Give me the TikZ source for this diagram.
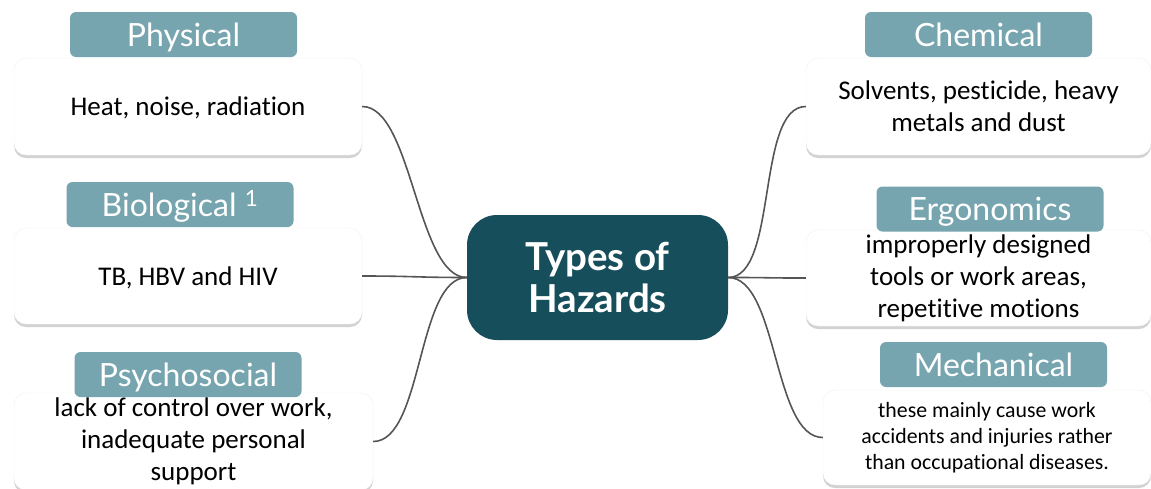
\documentclass[tikz,border=0pt]{standalone}
\usepackage{fontspec}
\setmainfont{Carlito}[Ligatures={NoCommon,TeX}]
\newfontfamily\tagfont{Lato}
\newfontfamily\titlefont{Lato}
\usetikzlibrary{shadows}
\definecolor{tagc}{HTML}{76A5AF}
\definecolor{hubc}{HTML}{164F5B}
\definecolor{linec}{HTML}{555555}
\tikzset{
  card/.style={fill=white, draw=black!6, rounded corners=12pt, inner sep=0pt,
    align=center, text=black,
    drop shadow={shadow xshift=0pt, shadow yshift=-3pt, opacity=0.25, fill=black!70}},
  bodytext/.style={font=\fontsize{27}{32}\selectfont},
  smalltext/.style={font=\fontsize{21.8}{26}\selectfont},
  tag/.style={fill=tagc, rounded corners=6pt, inner sep=0pt, text=white,
    minimum width=227pt, minimum height=45pt, text height=24pt, text depth=1pt,
    font=\tagfont\fontsize{32}{34}\selectfont},
  hub/.style={fill=hubc, rounded corners=30pt, inner sep=0pt, text=white,
    align=center, minimum width=261pt, minimum height=125pt,
    font=\titlefont\bfseries\fontsize{38.5}{42}\selectfont},
  conn/.style={draw=linec, line width=1.6pt},
}
\begin{document}
\begin{tikzpicture}[x=1pt, y=-1pt]
  \useasboundingbox (0,0) rectangle (1151,488);

  % central topic
  \node[hub] (hub) at (597.5,277.5) {Types of\\Hazards};

  % left branch cards
  \node[card, bodytext, minimum width=348pt, minimum height=97pt,
        text height=20pt, text depth=2pt] (phys) at (188,106.5)
    {Heat, noise, radiation};
  \node[card, bodytext, minimum width=348pt, minimum height=96pt,
        text height=20pt, text depth=2pt] (bio) at (188,276)
    {TB, HBV and HIV};
  \node[card, bodytext, minimum width=359pt, minimum height=97pt] (psy) at (193.5,441.5)
    {lack of control over work,\\inadequate personal\\support};

  % right branch cards
  \node[card, bodytext, minimum width=345pt, minimum height=97pt] (chem) at (978.5,106.5)
    {Solvents, pesticide, heavy\\metals and dust};
  \node[card, bodytext, minimum width=345pt, minimum height=96pt] (ergo) at (978.5,278)
    {improperly designed\\tools or work areas,\\repetitive motions};
  \node[card, smalltext, minimum width=328pt, minimum height=95pt] (mech) at (987,437.5)
    {these mainly cause work\\accidents and injuries rather\\than occupational diseases.};

  % category labels
  \node[tag] (physT) at (183.5,34.5) {Physical};
  \node[tag] (bioT) at (180,204.5) {Biological \textsuperscript{1}};
  \node[tag] (psyT) at (188,374.5) {Psychosocial};
  \node[tag] (chemT) at (978.5,34.5) {Chemical};
  \node[tag] (ergoT) at (990,209) {Ergonomics};
  \node[tag] (mechT) at (993.5,364.5) {Mechanical};

  % connectors
  \draw[conn] (hub.west) .. controls +(-50,0) and +(50,0) .. (phys.east);
  \draw[conn] (hub.west) .. controls +(-50,0) and +(50,0) .. (bio.east);
  \draw[conn] (hub.west) .. controls +(-50,0) and +(50,0) .. (psy.east);
  \draw[conn] (hub.east) .. controls +(50,0) and +(-50,0) .. (chem.west);
  \draw[conn] (hub.east) .. controls +(50,0) and +(-50,0) .. (ergo.west);
  \draw[conn] (hub.east) .. controls +(50,0) and +(-50,0) .. (mech.west);
\end{tikzpicture}
\end{document}
